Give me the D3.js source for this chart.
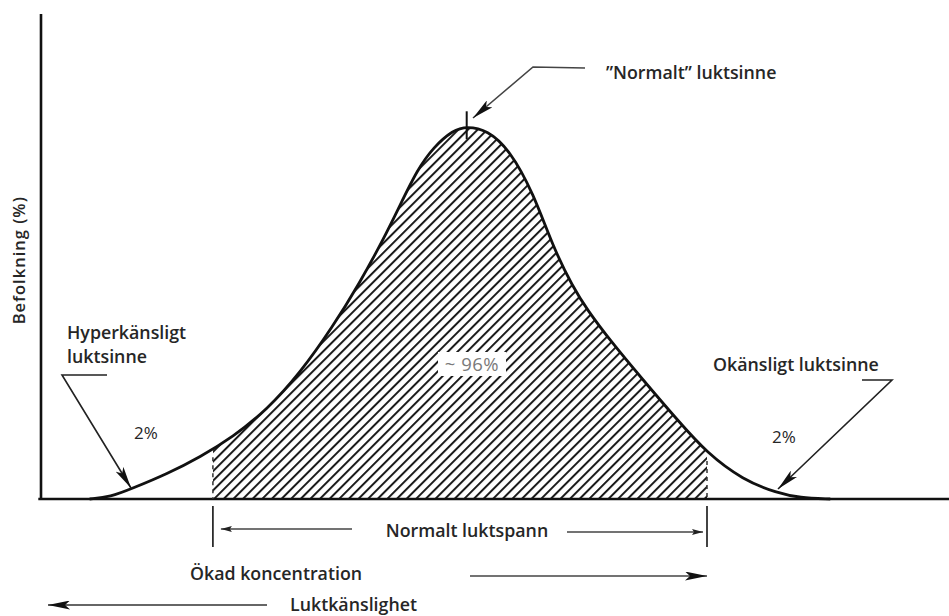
<!DOCTYPE html>
<html>
<head>
<meta charset="utf-8">
<script src="https://cdn.jsdelivr.net/npm/d3@7/dist/d3.min.js"></script>
<style>
  html, body { margin: 0; padding: 0; background: #fff; }
  svg { display: block; }
  text { font-family: "Open Sans", "Noto Sans", sans-serif; fill: #262626; }
</style>
</head>
<body>
<svg id="chart" width="949" height="616"></svg>
<script>
// ---- data ----
// sensitivity / concentration axis, arbitrary units
const curveX = [5.4, 7.7, 10.2, 14.0, 17.7, 21.3, 25.1, 28.8, 32.4, 35.4, 38.0, 39.9, 41.8, 43.6, 45.8, 47.3, 49.6, 52.1, 54.7, 56.9, 59.1, 60.7, 63.2, 66.9, 70.7, 74.0, 78.0, 81.8, 84.3, 87.7];
// population share (relative, peak = 100)
const curveY = [0, 0.5, 2.9, 6.7, 11.3, 16.6, 23.9, 33.8, 46.1, 57.9, 69.4, 78.8, 88.2, 94.3, 98.9, 99.9, 98.9, 93.5, 82.0, 67.5, 56.8, 50.7, 42.6, 31.9, 21.2, 12.3, 5.1, 1.6, 0.3, 0];
const normalRange = [19.1, 74];     // "Normalt luktspann"
const peakX = 47.3;                 // "Normalt" luktsinne
const shareLabels = ["2%", "~ 96%", "2%"];
const yLabel = "Befolkning (%)";

const svg = d3.select("#chart");
const x = d3.scaleLinear().domain([0, 100]).range([41, 941]);
const y = d3.scaleLinear().domain([0, 130]).range([499, 14]);

const pts = curveX.map((v, i) => [v, curveY[i]]);
const curveType = d3.curveBasis;

// hatch pattern
const defs = svg.append("defs");
defs.append("pattern")
  .attr("id", "hatch")
  .attr("patternUnits", "userSpaceOnUse")
  .attr("width", 6.8).attr("height", 6.8)
  .attr("patternTransform", "rotate(45)")
  .append("line")
  .attr("x1", 1).attr("y1", 0).attr("x2", 1).attr("y2", 6.8)
  .attr("stroke", "#1a1a1a").attr("stroke-width", 2);

defs.append("clipPath").attr("id", "normClip")
  .append("rect")
  .attr("x", x(normalRange[0])).attr("y", 0)
  .attr("width", x(normalRange[1]) - x(normalRange[0]))
  .attr("height", y(0));

defs.append("marker")
  .attr("id", "arrowBig")
  .attr("viewBox", "0 0 22 9")
  .attr("refX", 22).attr("refY", 4.5)
  .attr("markerWidth", 22).attr("markerHeight", 9)
  .attr("markerUnits", "userSpaceOnUse")
  .attr("orient", "auto")
  .append("path")
  .attr("d", "M0,0 L22,4.5 L0,9 L5,4.5 Z")
  .attr("fill", "#111");
defs.append("marker")
  .attr("id", "arrowSmall")
  .attr("viewBox", "0 0 11 6")
  .attr("refX", 11).attr("refY", 3)
  .attr("markerWidth", 11).attr("markerHeight", 6)
  .attr("markerUnits", "userSpaceOnUse")
  .attr("orient", "auto")
  .append("path")
  .attr("d", "M0,0 L11,3 L0,6 L2,3 Z")
  .attr("fill", "#222");

// hatched area
const area = d3.area()
  .x(d => x(d[0])).y0(y(0)).y1(d => y(d[1]))
  .curve(curveType);
svg.append("path")
  .datum(pts)
  .attr("d", area)
  .attr("fill", "url(#hatch)")
  .attr("clip-path", "url(#normClip)");

// curve
const line = d3.line()
  .x(d => x(d[0])).y(d => y(d[1]))
  .curve(curveType);
svg.append("path")
  .datum(pts)
  .attr("d", line)
  .attr("fill", "none")
  .attr("stroke", "#111")
  .attr("stroke-width", 2.8);

// axes
svg.append("line")
  .attr("x1", x(0)).attr("x2", x(0))
  .attr("y1", y(130)).attr("y2", y(0))
  .attr("stroke", "#111").attr("stroke-width", 2.6);
svg.append("line")
  .attr("x1", x(-0.3)).attr("x2", 949)
  .attr("y1", y(0)).attr("y2", y(0))
  .attr("stroke", "#111").attr("stroke-width", 2.4);

svg.append("text")
  .attr("transform", `translate(25,${y(64)}) rotate(-90)`)
  .attr("text-anchor", "middle")
  .attr("font-size", 16.5).attr("font-weight", 600)
  .attr("letter-spacing", 1)
  .text(yLabel);

// boundary markers of the normal range
function interpY(xv) {
  for (let i = 0; i < curveX.length - 1; i++) {
    if (xv >= curveX[i] && xv <= curveX[i + 1]) {
      const t = (xv - curveX[i]) / (curveX[i + 1] - curveX[i]);
      return curveY[i] + t * (curveY[i + 1] - curveY[i]);
    }
  }
  return 0;
}
normalRange.forEach(b => {
  svg.append("line")
    .attr("x1", x(b)).attr("x2", x(b))
    .attr("y1", y(interpY(b)) + 8).attr("y2", y(0))
    .attr("stroke", "#333").attr("stroke-width", 1.5)
    .attr("stroke-dasharray", "4,4");
  svg.append("line")
    .attr("x1", x(b)).attr("x2", x(b))
    .attr("y1", y(0) + 7).attr("y2", y(0) + 48)
    .attr("stroke", "#222").attr("stroke-width", 1.7);
});

// peak tick
svg.append("line")
  .attr("x1", x(peakX)).attr("x2", x(peakX))
  .attr("y1", y(interpY(peakX)) - 15).attr("y2", y(interpY(peakX)) + 13)
  .attr("stroke", "#111").attr("stroke-width", 2);

// "~ 96%" label with white knockout
const midLabel = svg.append("g").attr("transform", "translate(472,364)");
midLabel.append("rect")
  .attr("x", -34).attr("y", -12).attr("width", 68).attr("height", 24)
  .attr("fill", "#fff");
midLabel.append("text")
  .attr("text-anchor", "middle").attr("dy", "0.36em")
  .attr("font-size", 18.5).attr("font-weight", 500)
  .attr("letter-spacing", 0.5)
  .style("fill", "#7a7a7a")
  .text(shareLabels[1]);

// annotations
function leader(points, marker, width, color) {
  svg.append("path")
    .attr("d", d3.line()(points))
    .attr("fill", "none")
    .attr("stroke", color || "#222")
    .attr("stroke-width", width || 1.6)
    .attr("marker-end", `url(#${marker})`);
}
const FS = 17.8, FW = 600;

// Normalt luktsinne
svg.append("text")
  .attr("x", 606).attr("y", 79)
  .attr("font-size", FS).attr("font-weight", FW)
  .text("”Normalt” luktsinne");
leader([[585, 68], [533, 67], [473, 118]], "arrowBig", 1.6, "#444");

// Hyperkänsligt luktsinne
svg.append("text").attr("x", 67).attr("y", 339)
  .attr("font-size", FS).attr("font-weight", FW).text("Hyperkänsligt");
svg.append("text").attr("x", 67).attr("y", 363)
  .attr("font-size", FS).attr("font-weight", FW).text("luktsinne");
leader([[107, 375], [62, 375], [131, 488]], "arrowBig", 1.6);
svg.append("text").attr("x", 146).attr("y", 439)
  .attr("text-anchor", "middle")
  .attr("font-size", 17).attr("font-weight", 500).text(shareLabels[0]);

// Okänsligt luktsinne
svg.append("text").attr("x", 713).attr("y", 371)
  .attr("font-size", FS).attr("font-weight", FW).text("Okänsligt luktsinne");
leader([[862, 380], [892, 380], [778, 489]], "arrowBig", 1.6);
svg.append("text").attr("x", 784).attr("y", 443)
  .attr("text-anchor", "middle")
  .attr("font-size", 17).attr("font-weight", 500).text(shareLabels[2]);

// Normalt luktspann
svg.append("text").attr("x", 467).attr("y", 537)
  .attr("text-anchor", "middle")
  .attr("font-size", FS).attr("font-weight", FW).text("Normalt luktspann");
leader([[352, 529], [x(normalRange[0]) + 8, 529]], "arrowSmall", 1.4, "#444");
leader([[567, 532], [x(normalRange[1]) - 4, 532]], "arrowSmall", 1.4, "#444");

// Ökad koncentration
svg.append("text").attr("x", 190).attr("y", 580)
  .attr("font-size", FS).attr("font-weight", FW).text("Ökad koncentration");
leader([[470, 576], [x(normalRange[1]), 576]], "arrowBig", 1.4, "#444");

// Luktkänslighet
svg.append("text").attr("x", 290).attr("y", 611)
  .attr("font-size", FS).attr("font-weight", FW).text("Luktkänslighet");
leader([[267, 605], [48, 605]], "arrowBig", 1.6, "#333");
</script>
</body>
</html>
